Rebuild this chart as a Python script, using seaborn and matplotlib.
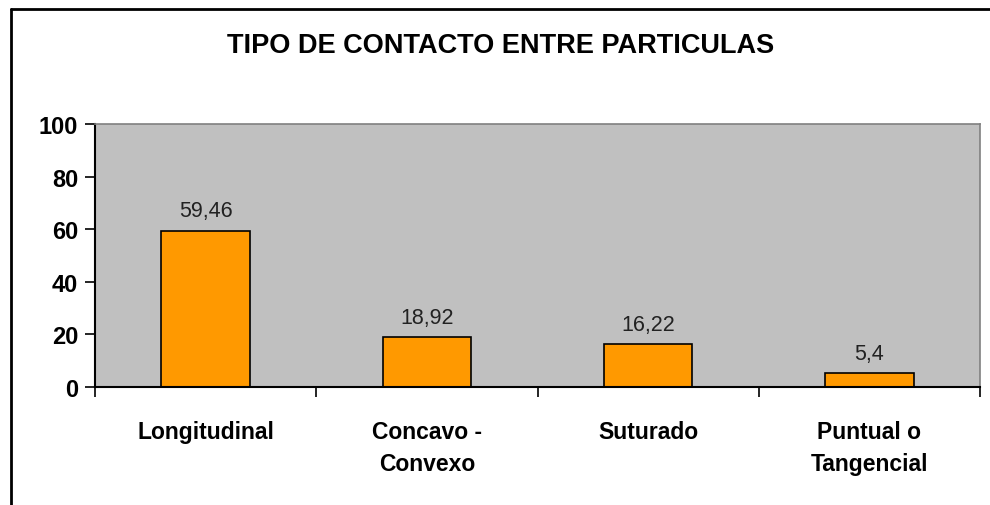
import matplotlib
matplotlib.use("Agg")
import matplotlib.pyplot as plt
import seaborn as sb
import pandas as pd
from matplotlib.lines import Line2D

categories = ["Longitudinal", "Concavo -\nConvexo", "Suturado", "Puntual o\nTangencial"]
values = [59.46, 18.92, 16.22, 5.4]
value_labels = ["59,46", "18,92", "16,22", "5,4"]
y_ticks = [0, 20, 40, 60, 80, 100]

sb.set_style("white")
plt.rcParams['font.family'] = ['Liberation Sans', 'DejaVu Sans']
plt.rcParams['text.color'] = 'black'
plt.rcParams['xtick.color'] = 'black'
plt.rcParams['ytick.color'] = 'black'

df = pd.DataFrame({'tipo': categories, 'pct': values})

fig = plt.figure(figsize=(9.9, 5.06), dpi=100)
ax = fig.add_axes([0.096, 0.233, 0.894, 0.52])
ax.set_facecolor('#C0C0C0')

sb.barplot(data=df, x='tipo', y='pct', color='#FF9900', saturation=1,
           width=0.4, edgecolor='black', linewidth=1.2, ax=ax)

for i, lab in enumerate(value_labels):
    ax.text(i, values[i] + 3.5, lab, ha='center', va='bottom', fontsize=15.5, color='#222222')

ax.set_ylim(0, 100)
ax.set_xlim(-0.5, len(categories) - 0.5)
ax.set_yticks(y_ticks)
ax.set_yticklabels([str(t) for t in y_ticks], fontsize=17, fontweight='bold')
ax.set_xticks(range(len(categories)))
ax.set_xticklabels(categories, fontsize=16.5, fontweight='bold', linespacing=1.45)
ax.set_xticks([i - 0.5 for i in range(len(categories) + 1)], minor=True)
ax.tick_params(axis='x', which='major', length=0, pad=24)
ax.tick_params(axis='x', which='minor', length=7, width=1.2, color='black', direction='out', bottom=True)
ax.tick_params(axis='y', length=7, width=1.2, color='black', direction='out', left=True, pad=5)
ax.set_xlabel('')
ax.set_ylabel('')

for s in ['top', 'right']:
    ax.spines[s].set_color('#808080')
    ax.spines[s].set_linewidth(1.2)
for s in ['left', 'bottom']:
    ax.spines[s].set_color('black')
    ax.spines[s].set_linewidth(1.5)

fig.text(0.506, 0.91, 'TIPO DE CONTACTO ENTRE PARTICULAS', ha='center', va='center',
         fontsize=19.5, fontweight='bold')

# outer frame of the chart
fig.add_artist(Line2D([11 / 990, 1.0], [1 - 10 / 506, 1 - 10 / 506], color='black', lw=2))
fig.add_artist(Line2D([11 / 990, 11 / 990], [0, 1 - 10 / 506], color='black', lw=2))

fig.savefig('out.png', dpi=100)
